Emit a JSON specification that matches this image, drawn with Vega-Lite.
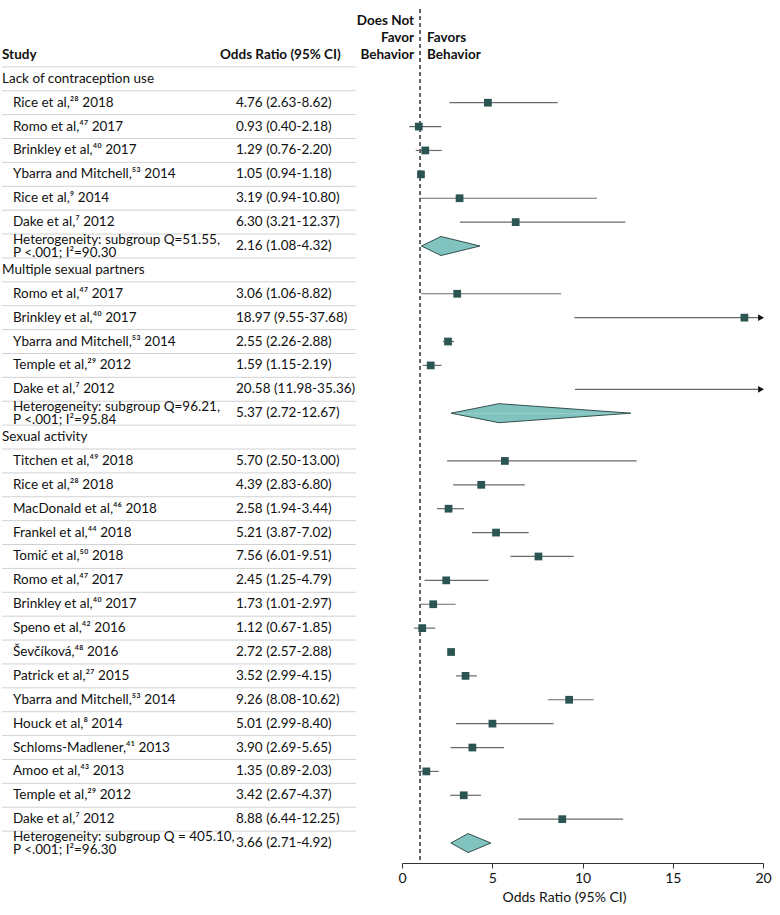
{
  "$schema": "https://vega.github.io/schema/vega-lite/v6.json",
  "padding": {"left": 1, "top": 8, "right": 12, "bottom": 5},
  "background": "white",
  "bounds": "flush",
  "config": {
    "view": {"stroke": null},
    "font": "Lato",
    "text": {"font": "Lato", "fontSize": 13.5, "color": "#111111", "baseline": "middle", "align": "left", "lineBreak": "\n", "lineHeight": 12.5},
    "axis": {"labelFont": "Lato", "titleFont": "Lato"}
  },
  "datasets": {
    "rows": [
      {"row": 0, "type": "header", "label": "Study", "ortext": "Odds Ratio (95% CI)"},
      {"row": 1, "type": "group", "label": "Lack of contraception use"},
      {"row": 2, "type": "study", "label": "Rice et al,²⁸ 2018", "ortext": "4.76 (2.63-8.62)", "or": 4.76, "lo": 2.63, "hi": 8.62},
      {"row": 3, "type": "study", "label": "Romo et al,⁴⁷ 2017", "ortext": "0.93 (0.40-2.18)", "or": 0.93, "lo": 0.40, "hi": 2.18},
      {"row": 4, "type": "study", "label": "Brinkley et al,⁴⁰ 2017", "ortext": "1.29 (0.76-2.20)", "or": 1.29, "lo": 0.76, "hi": 2.20},
      {"row": 5, "type": "study", "label": "Ybarra and Mitchell,⁵³ 2014", "ortext": "1.05 (0.94-1.18)", "or": 1.05, "lo": 0.94, "hi": 1.18},
      {"row": 6, "type": "study", "label": "Rice et al,⁹ 2014", "ortext": "3.19 (0.94-10.80)", "or": 3.19, "lo": 0.94, "hi": 10.80},
      {"row": 7, "type": "study", "label": "Dake et al,⁷ 2012", "ortext": "6.30 (3.21-12.37)", "or": 6.30, "lo": 3.21, "hi": 12.37},
      {"row": 8, "type": "pooled", "label": "Heterogeneity: subgroup Q=51.55,\nP <.001; I²=90.30", "ortext": "2.16 (1.08-4.32)", "or": 2.16, "lo": 1.08, "hi": 4.32},
      {"row": 9, "type": "group", "label": "Multiple sexual partners"},
      {"row": 10, "type": "study", "label": "Romo et al,⁴⁷ 2017", "ortext": "3.06 (1.06-8.82)", "or": 3.06, "lo": 1.06, "hi": 8.82},
      {"row": 11, "type": "study", "label": "Brinkley et al,⁴⁰ 2017", "ortext": "18.97 (9.55-37.68)", "or": 18.97, "lo": 9.55, "hi": 37.68},
      {"row": 12, "type": "study", "label": "Ybarra and Mitchell,⁵³ 2014", "ortext": "2.55 (2.26-2.88)", "or": 2.55, "lo": 2.26, "hi": 2.88},
      {"row": 13, "type": "study", "label": "Temple et al,²⁹ 2012", "ortext": "1.59 (1.15-2.19)", "or": 1.59, "lo": 1.15, "hi": 2.19},
      {"row": 14, "type": "study", "label": "Dake et al,⁷ 2012", "ortext": "20.58 (11.98-35.36)", "or": 20.58, "lo": 9.58, "hi": 35.36},
      {"row": 15, "type": "pooled", "label": "Heterogeneity: subgroup Q=96.21,\nP <.001; I²=95.84", "ortext": "5.37 (2.72-12.67)", "or": 5.37, "lo": 2.72, "hi": 12.67},
      {"row": 16, "type": "group", "label": "Sexual activity"},
      {"row": 17, "type": "study", "label": "Titchen et al,⁴⁹ 2018", "ortext": "5.70 (2.50-13.00)", "or": 5.70, "lo": 2.50, "hi": 13.00},
      {"row": 18, "type": "study", "label": "Rice et al,²⁸ 2018", "ortext": "4.39 (2.83-6.80)", "or": 4.39, "lo": 2.83, "hi": 6.80},
      {"row": 19, "type": "study", "label": "MacDonald et al,⁴⁶ 2018", "ortext": "2.58 (1.94-3.44)", "or": 2.58, "lo": 1.94, "hi": 3.44},
      {"row": 20, "type": "study", "label": "Frankel et al,⁴⁴ 2018", "ortext": "5.21 (3.87-7.02)", "or": 5.21, "lo": 3.87, "hi": 7.02},
      {"row": 21, "type": "study", "label": "Tomić et al,⁵⁰ 2018", "ortext": "7.56 (6.01-9.51)", "or": 7.56, "lo": 6.01, "hi": 9.51},
      {"row": 22, "type": "study", "label": "Romo et al,⁴⁷ 2017", "ortext": "2.45 (1.25-4.79)", "or": 2.45, "lo": 1.25, "hi": 4.79},
      {"row": 23, "type": "study", "label": "Brinkley et al,⁴⁰ 2017", "ortext": "1.73 (1.01-2.97)", "or": 1.73, "lo": 1.01, "hi": 2.97},
      {"row": 24, "type": "study", "label": "Speno et al,⁴² 2016", "ortext": "1.12 (0.67-1.85)", "or": 1.12, "lo": 0.67, "hi": 1.85},
      {"row": 25, "type": "study", "label": "Ševčíková,⁴⁸ 2016", "ortext": "2.72 (2.57-2.88)", "or": 2.72, "lo": 2.57, "hi": 2.88},
      {"row": 26, "type": "study", "label": "Patrick et al,²⁷ 2015", "ortext": "3.52 (2.99-4.15)", "or": 3.52, "lo": 2.99, "hi": 4.15},
      {"row": 27, "type": "study", "label": "Ybarra and Mitchell,⁵³ 2014", "ortext": "9.26 (8.08-10.62)", "or": 9.26, "lo": 8.08, "hi": 10.62},
      {"row": 28, "type": "study", "label": "Houck et al,⁸ 2014", "ortext": "5.01 (2.99-8.40)", "or": 5.01, "lo": 2.99, "hi": 8.40},
      {"row": 29, "type": "study", "label": "Schloms-Madlener,⁴¹ 2013", "ortext": "3.90 (2.69-5.65)", "or": 3.90, "lo": 2.69, "hi": 5.65},
      {"row": 30, "type": "study", "label": "Amoo et al,⁴³ 2013", "ortext": "1.35 (0.89-2.03)", "or": 1.35, "lo": 0.89, "hi": 2.03},
      {"row": 31, "type": "study", "label": "Temple et al,²⁹ 2012", "ortext": "3.42 (2.67-4.37)", "or": 3.42, "lo": 2.67, "hi": 4.37},
      {"row": 32, "type": "study", "label": "Dake et al,⁷ 2012", "ortext": "8.88 (6.44-12.25)", "or": 8.88, "lo": 6.44, "hi": 12.25},
      {"row": 33, "type": "pooled", "label": "Heterogeneity: subgroup Q = 405.10,\nP <.001; I²=96.30", "ortext": "3.66 (2.71-4.92)", "or": 3.66, "lo": 2.71, "hi": 4.92}
    ],
    "notes": [
      {"side": "left", "text": "Does Not\nFavor\nBehavior", "at": 1, "row": 0},
      {"side": "right", "text": "Favors\nBehavior", "at": 1, "row": 0}
    ],
    "upperEdge": [
      {"part": "lo", "edge": "mid"},
      {"part": "or", "edge": "top"},
      {"part": "hi", "edge": "mid"}
    ],
    "lowerEdge": [
      {"part": "lo", "edge": "mid"},
      {"part": "or", "edge": "bottom"},
      {"part": "hi", "edge": "mid"}
    ]
  },
  "spacing": 46,
  "hconcat": [
    {
      "width": 354,
      "height": 854,
      "data": {"name": "rows"},
      "layer": [
        {
          "transform": [{"filter": "datum.row < 33"}],
          "mark": {"type": "rule", "color": "#d2d2d2", "strokeWidth": 1},
          "encoding": {
            "y": {"field": "row", "type": "ordinal", "bandPosition": 1, "scale": {"type": "band", "domain": [0,1,2,3,4,5,6,7,8,9,10,11,12,13,14,15,16,17,18,19,20,21,22,23,24,25,26,27,28,29,30,31,32,33], "range": [34, 846], "paddingInner": 0, "paddingOuter": 0}, "axis": null}
          }
        },
        {
          "transform": [{"filter": "datum.type == 'header'"}],
          "mark": {"type": "text", "fontWeight": "bold"},
          "encoding": {
            "x": {"datum": "label", "type": "nominal", "scale": {"type": "point", "domain": ["label", "ortext"], "range": [0, 233], "padding": 0}, "axis": null},
            "y": {"field": "row", "type": "ordinal", "axis": null},
            "text": {"field": "label"}
          }
        },
        {
          "transform": [{"filter": "datum.type == 'header'"}],
          "mark": {"type": "text", "fontWeight": "bold", "dx": -15},
          "encoding": {
            "x": {"datum": "ortext", "type": "nominal", "axis": null},
            "y": {"field": "row", "type": "ordinal", "axis": null},
            "text": {"field": "ortext"}
          }
        },
        {
          "transform": [{"filter": "datum.type == 'group'"}],
          "mark": {"type": "text"},
          "encoding": {
            "x": {"datum": "label", "type": "nominal", "axis": null},
            "y": {"field": "row", "type": "ordinal", "axis": null},
            "text": {"field": "label"}
          }
        },
        {
          "transform": [{"filter": "datum.type == 'study'"}],
          "mark": {"type": "text", "dx": 11},
          "encoding": {
            "x": {"datum": "label", "type": "nominal", "axis": null},
            "y": {"field": "row", "type": "ordinal", "axis": null},
            "text": {"field": "label"}
          }
        },
        {
          "transform": [{"filter": "datum.type == 'pooled'"}],
          "mark": {"type": "text", "dx": 11, "dy": -6},
          "encoding": {
            "x": {"datum": "label", "type": "nominal", "axis": null},
            "y": {"field": "row", "type": "ordinal", "axis": null},
            "text": {"field": "label"}
          }
        },
        {
          "transform": [{"filter": "datum.type == 'study' || datum.type == 'pooled'"}],
          "mark": {"type": "text", "dx": 1},
          "encoding": {
            "x": {"datum": "ortext", "type": "nominal", "axis": null},
            "y": {"field": "row", "type": "ordinal", "axis": null},
            "text": {"field": "ortext"}
          }
        }
      ]
    },
    {
      "width": 361,
      "height": 854,
      "layer": [
        {
          "data": {"name": "notes"},
          "transform": [{"filter": "datum.side == 'left'"}],
          "mark": {"type": "rule", "color": "#111", "strokeWidth": 1.3, "strokeDash": [4, 3]},
          "encoding": {
            "x": {"field": "at", "type": "quantitative", "scale": {"domain": [0, 20], "nice": false, "zero": true, "clamp": true},
              "axis": {"values": [0, 5, 10, 15, 20], "title": "Odds Ratio (95% CI)", "grid": false, "labelFontSize": 14, "titleFontSize": 14, "titleFontWeight": "normal", "labelColor": "#111", "titleColor": "#111", "domainColor": "#333", "tickColor": "#333", "tickSize": 5, "labelPadding": 3, "titlePadding": 5, "labelFlush": false, "titleX": 162}}
          }
        },
        {
          "data": {"name": "notes"},
          "transform": [{"filter": "datum.side == 'left'"}],
          "mark": {"type": "text", "align": "right", "baseline": "middle", "dx": -6, "dy": -34, "fontWeight": "bold", "fontSize": 13.5, "lineHeight": 17},
          "encoding": {
            "x": {"field": "at", "type": "quantitative"},
            "y": {"field": "row", "type": "ordinal", "scale": {"type": "band", "domain": [0,1,2,3,4,5,6,7,8,9,10,11,12,13,14,15,16,17,18,19,20,21,22,23,24,25,26,27,28,29,30,31,32,33], "range": [34, 846], "paddingInner": 0, "paddingOuter": 0}, "axis": null},
            "text": {"field": "text"}
          }
        },
        {
          "data": {"name": "notes"},
          "transform": [{"filter": "datum.side == 'right'"}],
          "mark": {"type": "text", "align": "left", "baseline": "middle", "dx": 7, "dy": -17, "fontWeight": "bold", "fontSize": 13.5, "lineHeight": 17},
          "encoding": {
            "x": {"field": "at", "type": "quantitative"},
            "y": {"field": "row", "type": "ordinal", "axis": null},
            "text": {"field": "text"}
          }
        },
        {
          "data": {"name": "rows"},
          "transform": [{"filter": "datum.type == 'study'"}],
          "mark": {"type": "rule", "color": "#6a6a6a", "strokeWidth": 1.2},
          "encoding": {
            "x": {"field": "lo", "type": "quantitative"},
            "x2": {"field": "hi"},
            "y": {"field": "row", "type": "ordinal", "axis": null}
          }
        },
        {
          "data": {"name": "rows"},
          "transform": [{"filter": "datum.type == 'study' && datum.or <= 20"}],
          "mark": {"type": "point", "shape": "square", "filled": true, "color": "#2b5552", "opacity": 1, "size": 60},
          "encoding": {
            "x": {"field": "or", "type": "quantitative"},
            "y": {"field": "row", "type": "ordinal", "axis": null}
          }
        },
        {
          "data": {"name": "rows"},
          "transform": [{"filter": "datum.type == 'study' && datum.hi > 20"}],
          "mark": {"type": "point", "shape": "triangle-right", "filled": true, "color": "#111", "opacity": 1, "size": 45, "xOffset": -2},
          "encoding": {
            "x": {"field": "hi", "type": "quantitative"},
            "y": {"field": "row", "type": "ordinal", "axis": null}
          }
        },
        {
          "data": {"name": "rows"},
          "transform": [
            {"filter": "datum.type == 'pooled'"},
            {"fold": ["lo", "or", "hi"], "as": ["part", "val"]},
            {"lookup": "part", "from": {"data": {"name": "upperEdge"}, "key": "part", "fields": ["edge"]}}
          ],
          "mark": {"type": "line", "filled": true, "fill": "#80c3bf", "stroke": "#34504d", "strokeWidth": 1, "opacity": 1},
          "encoding": {
            "x": {"field": "val", "type": "quantitative"},
            "y": {"field": "row", "type": "ordinal", "axis": null},
            "yOffset": {"field": "edge", "type": "nominal", "scale": {"type": "point", "domain": ["top", "mid", "bottom"], "padding": 0.257}},
            "detail": {"field": "row", "type": "nominal"},
            "order": {"field": "val", "type": "quantitative"}
          }
        },
        {
          "data": {"name": "rows"},
          "transform": [
            {"filter": "datum.type == 'pooled'"},
            {"fold": ["lo", "or", "hi"], "as": ["part", "val"]},
            {"lookup": "part", "from": {"data": {"name": "lowerEdge"}, "key": "part", "fields": ["edge"]}}
          ],
          "mark": {"type": "line", "filled": true, "fill": "#80c3bf", "stroke": "#34504d", "strokeWidth": 1, "opacity": 1},
          "encoding": {
            "x": {"field": "val", "type": "quantitative"},
            "y": {"field": "row", "type": "ordinal", "axis": null},
            "yOffset": {"field": "edge", "type": "nominal"},
            "detail": {"field": "row", "type": "nominal"},
            "order": {"field": "val", "type": "quantitative"}
          }
        }
      ]
    }
  ]
}
